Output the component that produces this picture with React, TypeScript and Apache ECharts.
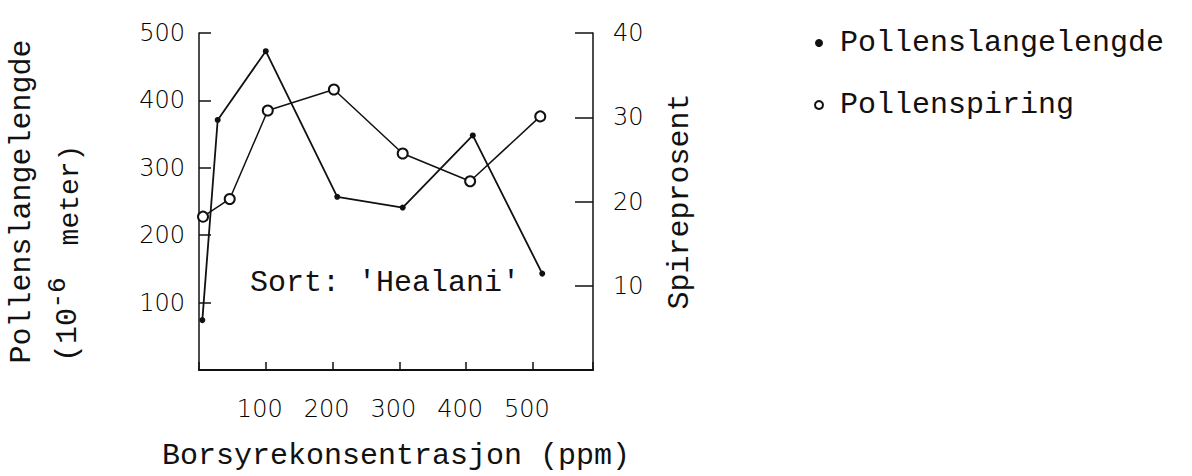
import React, { useEffect, useRef } from 'react';
import * as echarts from 'echarts';

// Borsyrekonsentrasjon (ppm) ticks
const xTicks = [100, 200, 300, 400, 500];
const leftTicks = [100, 200, 300, 400, 500];
const rightTicks = [10, 20, 30, 40];

// Pollenslangelengde (10^-6 meter), left axis
const lengthPpm = [5, 28, 100, 207, 305, 410, 514];
const lengthValues = [74, 371, 473, 257, 241, 348, 143];

// Pollenspiring (%), right axis
const germPpm = [6, 46, 103, 202, 305, 406, 511];
const germValues = [18.2, 20.3, 30.8, 33.3, 25.7, 22.4, 30.1];

const MONO = '"Liberation Mono", "Courier New", monospace';
const DIGITS = '"DejaVu Sans", sans-serif';
const INK = '#111';

export default function App() {
  const ref = useRef<HTMLDivElement>(null);
  useEffect(() => {
    if (!ref.current) return;
    const chart = echarts.init(ref.current, null, { renderer: 'svg' });
    const lengthData = lengthPpm.map((x, i) => [x, lengthValues[i]]);
    const germData = germPpm.map((x, i) => [x, germValues[i]]);
    chart.setOption({
      animation: false,
      backgroundColor: '#fff',
      grid: { left: 199, right: 599, top: 33, bottom: 96, containLabel: false },
      legend: {
        orient: 'vertical',
        left: 809,
        top: 23,
        itemWidth: 8,
        itemHeight: 8,
        itemGap: 32,
        textStyle: { fontFamily: MONO, fontSize: 30, color: INK, padding: [0, 0, 0, 12] },
        data: [
          { name: 'Pollenslangelengde', icon: 'circle' },
          { name: 'Pollenspiring', icon: 'emptyCircle' },
        ],
      },
      xAxis: {
        type: 'value',
        min: 0,
        max: 590,
        interval: 100,
        name: 'Borsyrekonsentrasjon (ppm)',
        nameLocation: 'middle',
        nameGap: 71,
        nameTextStyle: { fontFamily: MONO, fontSize: 30, color: INK },
        axisLine: { show: true, lineStyle: { color: INK, width: 2 } },
        axisTick: { show: true, inside: true, length: 8, lineStyle: { color: INK, width: 1.5 } },
        axisLabel: {
          formatter: (v: number) => (xTicks.includes(v) ? String(v) : ''),
          fontFamily: DIGITS,
          fontSize: 24,
          fontWeight: 200,
          color: '#000',
          margin: 27,
          padding: [0, 12, 0, 0],
        },
        splitLine: { show: false },
      },
      yAxis: [
        {
          type: 'value',
          position: 'left',
          min: 0,
          max: 500,
          interval: 100,
          name: 'Pollenslangelengde',
          nameLocation: 'middle',
          nameRotate: 90,
          nameGap: 162,
          nameTextStyle: { fontFamily: MONO, fontSize: 30, color: INK },
          axisLine: { show: true, lineStyle: { color: INK, width: 1.5 } },
          axisTick: { show: true, inside: true, length: 12, lineStyle: { color: INK, width: 1.5 } },
          axisLabel: {
            formatter: (v: number) => (leftTicks.includes(v) ? String(v) : ''),
            fontFamily: DIGITS,
            fontSize: 24,
            fontWeight: 200,
            color: '#000',
            margin: 14,
          },
          splitLine: { show: false },
        },
        {
          type: 'value',
          position: 'right',
          min: 0,
          max: 40,
          interval: 10,
          name: 'Spireprosent',
          nameLocation: 'middle',
          nameRotate: 90,
          nameGap: 72,
          nameTextStyle: { fontFamily: MONO, fontSize: 30, color: INK },
          axisLine: { show: true, lineStyle: { color: INK, width: 1.5 } },
          axisTick: { show: true, inside: true, length: 18, lineStyle: { color: INK, width: 1.5 } },
          axisLabel: {
            formatter: (v: number) => (rightTicks.includes(v) ? String(v) : ''),
            fontFamily: DIGITS,
            fontSize: 24,
            fontWeight: 200,
            color: '#000',
            margin: 20,
          },
          splitLine: { show: false },
        },
      ],
      graphic: [
        {
          type: 'text',
          x: 68,
          y: 335,
          rotation: Math.PI / 2,
          style: { text: '(10', fontFamily: MONO, fontSize: 30, fill: INK, align: 'center', verticalAlign: 'middle' },
        },
        {
          type: 'text',
          x: 58,
          y: 293,
          rotation: Math.PI / 2,
          style: { text: '-6', fontFamily: MONO, fontSize: 26, fill: INK, align: 'center', verticalAlign: 'middle' },
        },
        {
          type: 'text',
          x: 70,
          y: 195,
          rotation: Math.PI / 2,
          style: { text: 'meter)', fontFamily: MONO, fontSize: 28, fill: INK, align: 'center', verticalAlign: 'middle' },
        },
        {
          type: 'text',
          x: 250,
          y: 283,
          style: { text: "Sort: 'Healani'", fontFamily: MONO, fontSize: 30, fill: INK, align: 'left', verticalAlign: 'middle' },
        },
      ],
      series: [
        {
          name: 'Pollenslangelengde',
          type: 'line',
          yAxisIndex: 0,
          data: lengthData,
          symbol: 'circle',
          symbolSize: 6,
          itemStyle: { color: INK },
          lineStyle: { color: INK, width: 1.8 },
          z: 3,
        },
        {
          name: 'Pollenspiring',
          type: 'line',
          yAxisIndex: 1,
          data: germData,
          symbol: 'emptyCircle',
          symbolSize: 10,
          itemStyle: { color: INK, borderColor: INK, borderWidth: 2 },
          lineStyle: { color: INK, width: 1.5 },
          z: 4,
        },
      ],
    });
    return () => chart.dispose();
  }, []);
  return (
    <div
      ref={ref}
      style={{ position: 'fixed', left: 0, top: 0, width: 1192, height: 476, background: '#fff' }}
    />
  );
}
